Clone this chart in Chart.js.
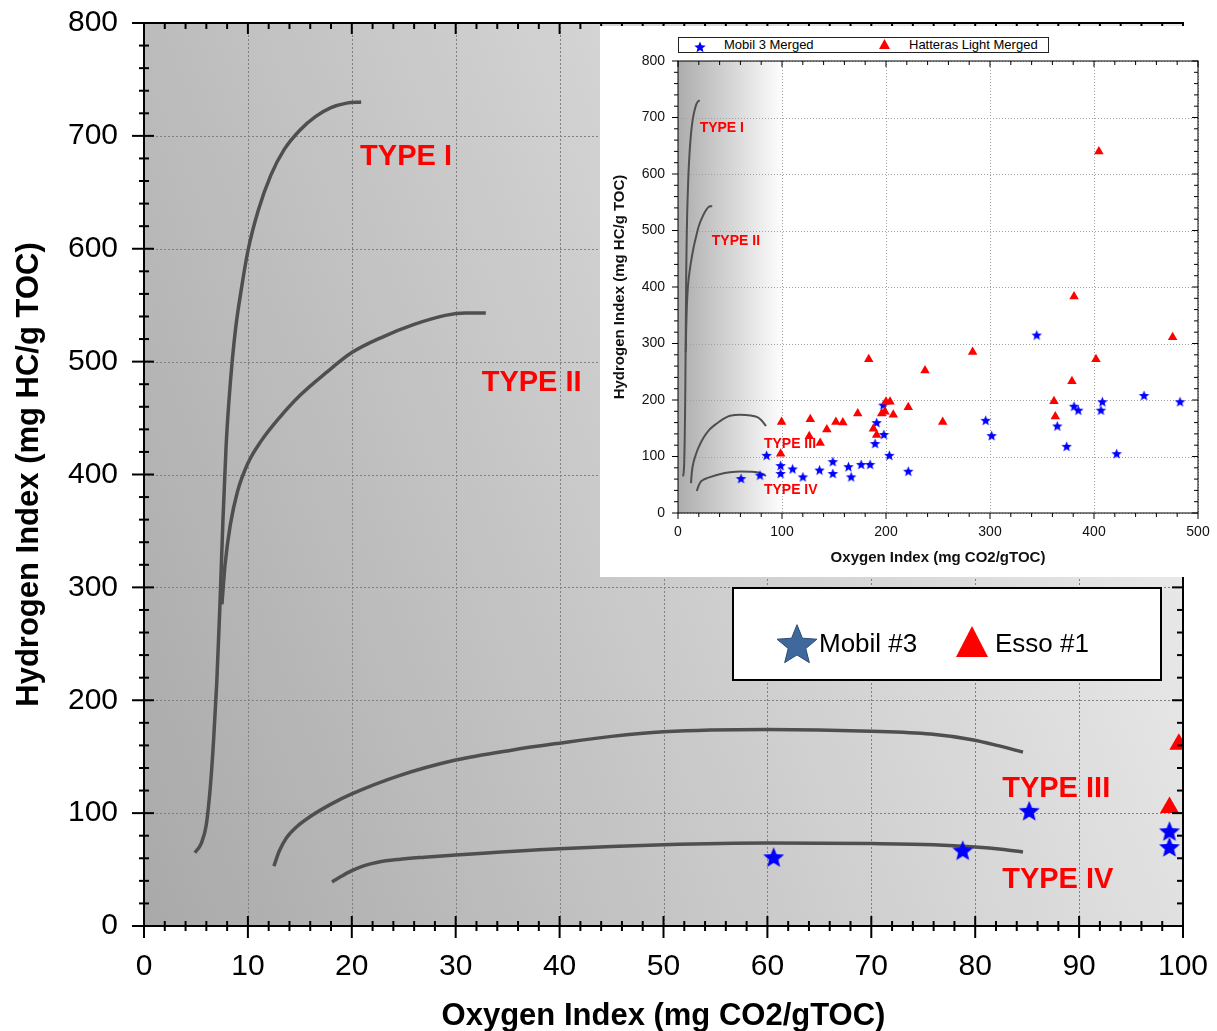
<!DOCTYPE html>
<html>
<head>
<meta charset="utf-8">
<title>Hydrogen Index vs Oxygen Index</title>
<script src="https://cdn.jsdelivr.net/npm/chart.js@4.4.1/dist/chart.umd.min.js"></script>
<style>
  body { margin: 0; background: #fff; font-family: 'Liberation Sans', Arial, sans-serif; }
  #wrap { position: relative; width: 1217px; height: 1031px; overflow: hidden; }
  #mainChart { position: absolute; left: 0; top: 0; }
  #inset { position: absolute; left: 600px; top: 26px; width: 617px; height: 551px; background: #fff; }
  #insetChart { position: absolute; left: 0; top: 0; }
  .legend { position: absolute; background: #fff; border-style: solid; border-color: #000; box-sizing: border-box; color: #000; }
  .legend span { position: absolute; white-space: nowrap; }
  .legend canvas { position: absolute; }
</style>
</head>
<body>
<div id="wrap">
  <canvas id="mainChart" width="1217" height="1031"></canvas>
  <div id="inset">
    <canvas id="insetChart" width="617" height="551"></canvas>
    <div class="legend" id="insetLegend" style="left:78px; top:11px; width:371px; height:16px; border-width:1px; border-color:#222; font-size:13px; line-height:14px;">
      <span id="insetStar" style="left:13px; top:1px;"></span>
      <span id="insetMobil" style="left:45px; top:0;"></span>
      <span id="insetTri" style="left:200px; top:1px;"></span>
      <span id="insetEsso" style="left:230px; top:0;"></span>
    </div>
  </div>
  <div class="legend" id="mainLegend" style="left:732px; top:587px; width:430px; height:94px; border-width:2px; font-size:26px; line-height:30px;">
    <span id="mainStar" style="left:40px; top:32px;"></span>
    <span id="mainMobil" style="left:85px; top:39px;"></span>
    <span id="mainTri" style="left:222px; top:37px;"></span>
    <span id="mainEsso" style="left:261px; top:39px;"></span>
  </div>
</div>

<script>
// Kerogen type reference curves (Oxygen Index, Hydrogen Index)
const typeIOI = [4.9, 5.5, 6.0, 6.4, 6.7, 7.0, 7.3, 7.6, 7.9, 8.3, 8.8, 9.4, 10.0, 11.0, 12.2, 13.5, 15.0, 16.5, 18.0, 19.5, 20.9];
const typeIHI = [65, 73, 90, 125, 165, 215, 282, 360, 425, 480, 528, 566, 598, 634, 665, 688, 705, 717, 725, 729, 730];

const typeIIOI = [7.5, 7.8, 8.3, 9.0, 10.0, 11.3, 13.0, 15.0, 17.5, 20.0, 23.0, 26.0, 29.0, 31.0, 32.9];
const typeIIHI = [285, 320, 355, 385, 410, 430, 450, 470, 490, 508, 522, 533, 541, 543, 543];

const typeIIIOI = [12.5, 13.0, 13.7, 14.7, 16.0, 18.0, 20, 24.5, 30, 35.5, 40, 45, 50, 60, 70, 75.7, 79.7, 82.1, 84.6];
const typeIIIHI = [53, 66, 78, 88, 97, 108, 117, 133, 147, 156, 162, 168, 172, 174, 172.5, 170, 165, 160, 154];

const typeIVOI = [18.1, 19.0, 20.0, 21.2, 22.5, 24.5, 27, 30, 40, 50, 60, 70, 76, 80, 82.5, 84.6];
const typeIVHI = [39, 44, 49, 53.5, 56.5, 59, 61, 63, 68.5, 72, 73.5, 73, 72, 70, 68, 65.5];

// curve labels (placed at OI / HI)
const typeLabels = ['TYPE I', 'TYPE II', 'TYPE III', 'TYPE IV'];
const typeLabelOI = [20.8, 32.5, 82.6, 82.6];
const typeLabelHI = [681, 481, 121, 41];

// Mobil #3 samples
const mobilOI = [60.6, 78.8, 85.2, 98.7, 98.7, 110.2, 120.1, 136.1, 148.9, 148.9, 163.9, 166.5, 176.1, 184.7,
  189.5, 191, 198, 197.4, 203.2, 221.4, 295.8, 301.6, 344.9, 364.7, 373.7, 380.8, 384.9, 408, 406.7, 421.8, 448.1, 482.7];
const mobilHI = [61, 67, 102, 84, 70, 78, 64, 76, 91, 70, 82, 64, 86, 86,
  123, 160, 139, 191, 102, 74, 164, 137, 315, 154, 118, 189, 182, 197, 182, 105, 208, 197];

// Esso #1 samples
const essoOI = [99.6, 98.7, 127.2, 126.2, 136.7, 143.1, 151.8, 158.5, 172.8, 183.4, 187.9, 191, 195.9, 199,
  200, 203.9, 207, 221.4, 237.5, 254.5, 283.3, 361.5, 362.8, 378.8, 380.8, 401.9, 404.7, 475.6];
const essoHI = [161, 105, 166, 136, 124, 148, 161, 160, 176, 272, 149, 138, 176, 179,
  197, 197, 174, 187, 252, 161, 285, 198, 171, 233, 383, 272, 640, 311];

const mainLegendLabels = ['Mobil #3', 'Esso #1'];
const insetLegendLabels = ['Mobil 3 Merged', 'Hatteras Light Merged'];

Chart.defaults.font.family = "'Liberation Sans', Arial, Helvetica, sans-serif";
Chart.defaults.color = '#000';

const pts = (xs, ys) => xs.map((v, i) => ({ x: v, y: ys[i] }));

function starImage(R, fill, stroke) {
  const c = document.createElement('canvas');
  const s = Math.ceil(R * 2 + 4);
  c.width = s; c.height = s;
  const g = c.getContext('2d');
  g.translate(s / 2, s / 2 + R * 0.08);
  g.beginPath();
  for (let i = 0; i < 10; i++) {
    const r = i % 2 ? R * 0.44 : R;
    const a = -Math.PI / 2 + i * Math.PI / 5;
    g.lineTo(r * Math.cos(a), r * Math.sin(a));
  }
  g.closePath();
  g.fillStyle = fill;
  g.fill();
  if (stroke) { g.strokeStyle = stroke; g.lineWidth = 1; g.stroke(); }
  return c;
}

function triImage(w, h, fill) {
  const c = document.createElement('canvas');
  c.width = w; c.height = h;
  const g = c.getContext('2d');
  g.beginPath();
  g.moveTo(w / 2, 0); g.lineTo(w, h); g.lineTo(0, h);
  g.closePath();
  g.fillStyle = fill;
  g.fill();
  return c;
}

// gray gradient behind the plot
const plotBackground = {
  id: 'plotBackground',
  beforeDraw(chart, args, o) {
    const { ctx, chartArea: a, scales: { x } } = chart;
    const right = x.getPixelForValue(o.toValue);
    const g = ctx.createLinearGradient(a.left, a.bottom, right, a.bottom - a.height * o.tilt);
    g.addColorStop(0, o.from);
    g.addColorStop(1, o.to);
    ctx.save();
    ctx.fillStyle = g;
    ctx.fillRect(a.left, a.top, right - a.left, a.height);
    ctx.restore();
  }
};

// dotted grid lines + TYPE labels
const dottedGrid = {
  id: 'dottedGrid',
  beforeDatasetsDraw(chart, args, o) {
    const { ctx, chartArea: a, scales: { x, y } } = chart;
    ctx.save();
    ctx.strokeStyle = o.color;
    ctx.lineWidth = o.width;
    ctx.setLineDash(o.dash);
    x.ticks.forEach(t => {
      const p = Math.round(x.getPixelForValue(t.value)) + 0.5;
      ctx.beginPath(); ctx.moveTo(p, a.top); ctx.lineTo(p, a.bottom); ctx.stroke();
    });
    y.ticks.forEach(t => {
      const p = Math.round(y.getPixelForValue(t.value)) + 0.5;
      ctx.beginPath(); ctx.moveTo(a.left, p); ctx.lineTo(a.right, p); ctx.stroke();
    });
    ctx.setLineDash([]);
    ctx.fillStyle = '#ff0000';
    ctx.font = 'bold ' + o.labelSize + 'px ' + Chart.defaults.font.family;
    ctx.textAlign = 'left';
    ctx.textBaseline = 'middle';
    typeLabels.forEach((txt, i) => {
      ctx.fillText(txt, x.getPixelForValue(typeLabelOI[i]), y.getPixelForValue(typeLabelHI[i]));
    });
    ctx.restore();
  }
};

// box around plot with major/minor tick marks on all sides
const tickFrame = {
  id: 'tickFrame',
  afterDatasetsDraw(chart, args, o) {
    const { ctx, chartArea: a, scales: { x, y } } = chart;
    ctx.save();
    ctx.strokeStyle = '#000';
    ctx.lineWidth = o.width;
    ctx.strokeRect(a.left, a.top, a.width, a.height);
    const seg = (x1, y1, x2, y2) => { ctx.beginPath(); ctx.moveTo(x1, y1); ctx.lineTo(x2, y2); ctx.stroke(); };
    const isMajor = (v, step) => Math.abs(v / step - Math.round(v / step)) < 1e-6;
    for (let v = x.min; v <= x.max + 1e-9; v += o.xMinor) {
      const p = x.getPixelForValue(v);
      const m = isMajor(v, o.xMajor);
      seg(p, a.bottom - (m ? o.majIn : o.minIn), p, a.bottom + (m ? o.majOut : o.minOut));
      seg(p, a.top, p, a.top + (m ? o.oppMaj : o.oppMin));
    }
    for (let v = y.min; v <= y.max + 1e-9; v += o.yMinor) {
      const p = y.getPixelForValue(v);
      const m = isMajor(v, o.yMajor);
      seg(a.left - (m ? o.majOut : o.minOut), p, a.left + (m ? o.majIn : o.minIn), p);
      seg(a.right - (m ? o.oppMaj : o.oppMin), p, a.right, p);
    }
    ctx.restore();
  }
};

function buildDatasets(s) {
  const curve = (xs, ys) => ({
    data: pts(xs, ys), showLine: true, pointRadius: 0, borderColor: '#4f4f4f',
    borderWidth: s.curveWidth, cubicInterpolationMode: 'monotone', fill: false, clip: 0, order: 3
  });
  return [
    curve(typeIOI, typeIHI),
    curve(typeIIOI, typeIIHI),
    curve(typeIIIOI, typeIIIHI),
    curve(typeIVOI, typeIVHI),
    {
      label: s.labels[0], data: pts(mobilOI, mobilHI), showLine: false,
      pointStyle: starImage(s.starR, '#0000ff'), pointRadius: s.starR, clip: 0, order: 2
    },
    {
      label: s.labels[1], data: pts(essoOI, essoHI), showLine: false,
      pointStyle: 'triangle', pointRadius: s.triR, backgroundColor: '#ff0000',
      borderWidth: 0, clip: 0, order: 1
    }
  ];
}

function axis(s, min, max, step, title, isX) {
  return {
    type: 'linear', min: min, max: max,
    grid: { display: false, drawTicks: false },
    border: { display: false },
    ticks: {
      stepSize: step, autoSkip: false, maxRotation: 0,
      font: { size: s.tickSize }, color: s.tickColor,
      padding: isX ? s.xPad : s.yPad
    },
    title: {
      display: true, text: title, color: s.tickColor,
      font: { size: s.titleSize, weight: 'bold' },
      padding: isX ? { top: 0, bottom: s.xTitlePad } : { top: s.yTitlePad, bottom: 0 }
    },
    afterFit(scale) {
      if (isX) scale.height = s.xHeight; else scale.width = s.yWidth;
      // plot area is set by layout padding only
      scale.paddingTop = 0; scale.paddingBottom = 0;
      scale.paddingLeft = 0; scale.paddingRight = 0;
    }
  };
}

function makeChart(id, s) {
  return new Chart(document.getElementById(id), {
    type: 'scatter',
    data: { datasets: buildDatasets(s) },
    options: {
      responsive: false,
      animation: false,
      devicePixelRatio: 1,
      layout: { padding: { top: s.padTop, right: s.padRight, left: 0, bottom: 0 } },
      scales: {
        x: axis(s, 0, s.xMax, s.xMajor, 'Oxygen Index (mg CO2/gTOC)', true),
        y: axis(s, 0, 800, 100, 'Hydrogen Index (mg HC/g TOC)', false)
      },
      plugins: {
        legend: { display: false },
        tooltip: { enabled: false },
        plotBackground: s.bg,
        dottedGrid: { color: s.gridColor, width: 1, dash: s.dash, labelSize: s.labelSize },
        tickFrame: s.frame
      }
    },
    plugins: [plotBackground, dottedGrid, tickFrame]
  });
}

makeChart('mainChart', {
  labels: mainLegendLabels,
  xMax: 100, xMajor: 10,
  tickSize: 30, titleSize: 31, labelSize: 29, tickColor: '#000',
  xPad: 23, yPad: 26, xTitlePad: -4, yTitlePad: 11,
  xHeight: 105, yWidth: 144, padTop: 23, padRight: 34,
  curveWidth: 3.5, starR: 11, triR: 11,
  gridColor: '#808080', dash: [2, 2],
  bg: { toValue: 100, from: '#a9a9a9', to: '#e9e9e9', tilt: 0.45 },
  frame: { width: 2, xMinor: 2, xMajor: 10, yMinor: 20, yMajor: 100,
    majOut: 12, majIn: 10, minOut: 5, minIn: 5, oppMaj: 11, oppMin: 6 }
});

makeChart('insetChart', {
  labels: insetLegendLabels,
  xMax: 500, xMajor: 100,
  tickSize: 14, titleSize: 15, labelSize: 14, tickColor: '#111',
  xPad: 11, yPad: 13, xTitlePad: 10, yTitlePad: 11,
  xHeight: 64, yWidth: 78, padTop: 35, padRight: 19,
  curveWidth: 2, starR: 5.5, triR: 5.5,
  gridColor: '#a0a0a0', dash: [1, 2],
  bg: { toValue: 100, from: '#acacac', to: '#fdfdfd', tilt: 0 },
  frame: { width: 1, xMinor: 20, xMajor: 100, yMinor: 20, yMajor: 100,
    majOut: 6, majIn: 0, minOut: 4, minIn: 0, oppMaj: 6, oppMin: 4 }
});

// legends
document.getElementById('mainStar').appendChild(starImage(21, '#3f689c', '#2c4b74'));
document.getElementById('mainTri').appendChild(triImage(32, 31, '#ff0000'));
document.getElementById('mainMobil').textContent = mainLegendLabels[0];
document.getElementById('mainEsso').textContent = mainLegendLabels[1];

document.getElementById('insetStar').appendChild(starImage(6, '#0000ff'));
document.getElementById('insetTri').appendChild(triImage(11, 10, '#ff0000'));
document.getElementById('insetMobil').textContent = insetLegendLabels[0];
document.getElementById('insetEsso').textContent = insetLegendLabels[1];
</script>
</body>
</html>
